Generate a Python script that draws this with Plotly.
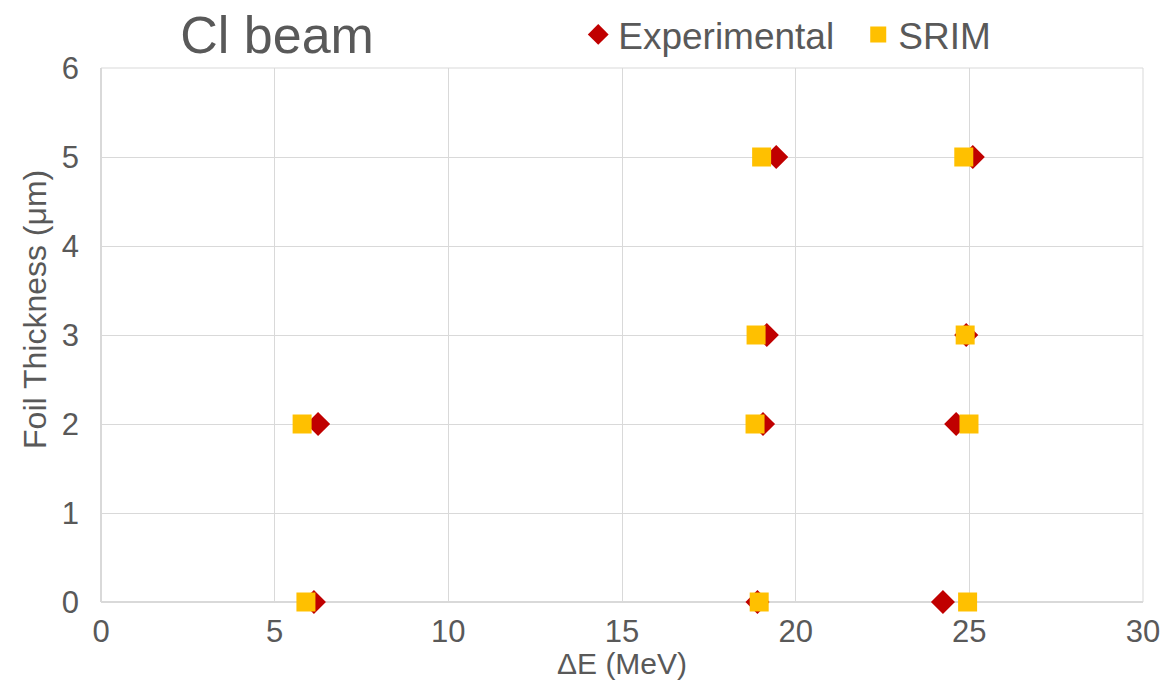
import plotly.graph_objects as go

# Foil thickness (µm) vs. energy loss ΔE (MeV) for the Cl beam
thickness = [0, 2, 0, 2, 3, 5, 0, 2, 3, 5]
exp_de = [6.13, 6.25, 18.90, 19.06, 19.17, 19.44, 24.24, 24.62, 24.91, 25.10]
srim_de = [5.90, 5.79, 18.95, 18.83, 18.86, 19.02, 24.95, 24.99, 24.88, 24.84]

x_ticks = [0, 5, 10, 15, 20, 25, 30]
y_ticks = [0, 1, 2, 3, 4, 5, 6]

TEXT = "#595959"
GRID = "#d9d9d9"
FONT = "Liberation Sans, Arial, sans-serif"

fig = go.Figure()
fig.add_trace(go.Scatter(
    x=exp_de, y=thickness, mode="markers", name="Experimental", cliponaxis=False,
    marker=dict(symbol="diamond", size=18.5, color="#c00000", line=dict(width=0)),
))
fig.add_trace(go.Scatter(
    x=srim_de, y=thickness, mode="markers", name="SRIM", cliponaxis=False,
    marker=dict(symbol="square", size=19, color="#ffc000", line=dict(width=0)),
))

fig.update_layout(
    width=1163, height=681,
    margin=dict(l=101, r=20, t=68, b=79, autoexpand=False),
    paper_bgcolor="white", plot_bgcolor="white",
    font=dict(family=FONT, color=TEXT),
    title=dict(text="Cl beam", font=dict(size=52, color=TEXT, family=FONT),
               xref="container", x=0.155, xanchor="left",
               yref="container", y=0.949, yanchor="middle"),
    legend=dict(orientation="h", x=0.458, xanchor="left", y=1.062, yanchor="middle",
                font=dict(size=37, color=TEXT, family=FONT), bgcolor="rgba(0,0,0,0)",
                entrywidth=235, entrywidthmode="pixels"),
    showlegend=True,
)
fig.update_xaxes(
    range=[0, 30], tickvals=x_ticks, showgrid=True, gridcolor=GRID, gridwidth=1,
    zeroline=True, zerolinecolor=GRID, showline=False, automargin=False,
    tickfont=dict(size=31, color=TEXT), ticks="", ticklabelstandoff=8,
)
fig.update_yaxes(
    range=[0, 6], tickvals=y_ticks, showgrid=True, gridcolor=GRID, gridwidth=1,
    zeroline=True, zerolinecolor=GRID, showline=False, automargin=False,
    tickfont=dict(size=31, color=TEXT), ticks="", ticklabelstandoff=21,
)
# axis titles
fig.add_annotation(text="ΔE (MeV)", xref="paper", yref="paper", x=0.5, y=-0.116,
                   xanchor="center", yanchor="middle", showarrow=False,
                   font=dict(size=30, color=TEXT, family=FONT))
fig.add_annotation(text="Foil Thickness (μm)", xref="paper", yref="paper", x=-0.0633, y=0.547,
                   xanchor="center", yanchor="middle", showarrow=False, textangle=-90,
                   font=dict(size=32, color=TEXT, family=FONT))
# right and top borders of the plot area
fig.add_shape(type="line", xref="paper", yref="paper", x0=1, x1=1, y0=0, y1=1,
              line=dict(color=GRID, width=1))
fig.add_shape(type="line", xref="paper", yref="paper", x0=0, x1=1, y0=1, y1=1,
              line=dict(color=GRID, width=1))

fig.write_html("out.html")
